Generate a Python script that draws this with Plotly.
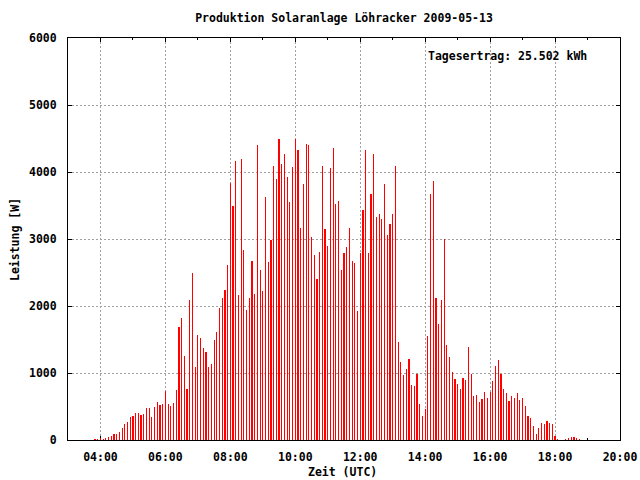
import plotly.graph_objects as go

DAY = "2009-05-13"

times = [
    "03:50", "03:55",
    "04:00", "04:05", "04:10", "04:15", "04:20", "04:25", "04:30", "04:35", "04:40", "04:45", "04:50", "04:55",
    "05:00", "05:05", "05:10", "05:15", "05:20", "05:25", "05:30", "05:35", "05:40", "05:45", "05:50", "05:55",
    "06:00", "06:05", "06:10", "06:15", "06:20", "06:25", "06:30", "06:35", "06:40", "06:45", "06:50", "06:55",
    "07:00", "07:05", "07:10", "07:15", "07:20", "07:25", "07:30", "07:35", "07:40", "07:45", "07:50", "07:55",
    "08:00", "08:05", "08:10", "08:15", "08:20", "08:25", "08:30", "08:35", "08:40", "08:45", "08:50", "08:55",
    "09:00", "09:05", "09:10", "09:15", "09:20", "09:25", "09:30", "09:35", "09:40", "09:45", "09:50", "09:55",
    "10:00", "10:05", "10:10", "10:15", "10:20", "10:25", "10:30", "10:35", "10:40", "10:45", "10:50", "10:55",
    "11:00", "11:05", "11:10", "11:15", "11:20", "11:25", "11:30", "11:35", "11:40", "11:45", "11:50", "11:55",
    "12:00", "12:05", "12:10", "12:15", "12:20", "12:25", "12:30", "12:35", "12:40", "12:45", "12:50", "12:55",
    "13:00", "13:05", "13:10", "13:15", "13:20", "13:25", "13:30", "13:35", "13:40", "13:45", "13:50", "13:55",
    "14:00", "14:05", "14:10", "14:15", "14:20", "14:25", "14:30", "14:35", "14:40", "14:45", "14:50", "14:55",
    "15:00", "15:05", "15:10", "15:15", "15:20", "15:25", "15:30", "15:35", "15:40", "15:45", "15:50", "15:55",
    "16:00", "16:05", "16:10", "16:15", "16:20", "16:25", "16:30", "16:35", "16:40", "16:45", "16:50", "16:55",
    "17:00", "17:05", "17:10", "17:15", "17:20", "17:25", "17:30", "17:35", "17:40", "17:45", "17:50", "17:55",
    "18:00", "18:05", "18:10", "18:15", "18:20", "18:25", "18:30", "18:35", "18:40", "18:45",
]

leistung = [
    15, 15,
    20, 15, 30, 50, 65, 90, 90, 125, 180, 240, 270, 345,
    360, 405, 405, 375, 390, 480, 480, 345, 495, 565, 520, 535,
    730, 535, 505, 550, 747, 1690, 1824, 1256, 762, 2093, 2497, 1091,
    1570, 1525, 1375, 1315, 1091, 1136, 1495, 1615, 1973, 2123, 2242, 2616,
    3842, 3498, 4171, 2168, 4201, 2840, 1943, 2123, 2676, 2183, 4410, 2541,
    2227, 3633, 2661, 2990, 4096, 3902, 4500, 4126, 4275, 3932, 3558, 4081,
    4500, 4335, 3169, 3827, 4425, 4410, 3035, 2766, 2407, 2811, 4096, 3154,
    2900, 4066, 4365, 3528, 3573, 2541, 2796, 2885, 3169, 2676, 2646, 1928,
    2796, 3438, 4335, 2796, 3677, 4275, 3333, 3378, 3304, 3827, 3065, 3229,
    3378, 4096, 1465, 1166, 972, 1061, 1211, 822, 807, 987, 538, 359,
    463, 1555, 3677, 3872, 2123, 1734, 2093, 3005, 1420, 1241, 1017, 912,
    837, 762, 927, 897, 1390, 987, 658, 673, 568, 613, 718, 628,
    718, 882, 1106, 1196, 987, 762, 703, 583, 658, 628, 701, 597,
    627, 507, 358, 328, 209, 90, 179, 254, 239, 284, 254, 239,
    60, 15, 0, 0, 15, 30, 45, 45, 30, 15,
]

x_ticks = ["04:00", "06:00", "08:00", "10:00", "12:00", "14:00", "16:00", "18:00", "20:00"]
y_ticks = [0, 1000, 2000, 3000, 4000, 5000, 6000]

title_text = "Produktion Solaranlage Löhracker 2009-05-13"
ertrag_text = "Tagesertrag: 25.502 kWh"

FONT = "DejaVu Sans Mono"
FS = 11.5

x = [f"{DAY} {t}" for t in times]

fig = go.Figure()
fig.add_trace(go.Bar(
    x=x, y=leistung,
    width=20000,
    marker=dict(color="#ff0000", line=dict(width=0)),
    showlegend=False,
))

fig.update_layout(
    width=640, height=480, autosize=False,
    margin=dict(l=68, r=20, t=38, b=40, pad=0, autoexpand=False),
    paper_bgcolor="white", plot_bgcolor="white",
    font=dict(family=FONT, size=FS, color="black", weight="bold"),
    bargap=0,
    showlegend=False,
    title=dict(text=title_text, x=0.5, xref="paper", xanchor="center",
               y=1 - 18 / 480, yref="container", yanchor="middle",
               font=dict(family=FONT, size=FS, color="black", weight="bold")),
    annotations=[
        dict(text=ertrag_text, xref="paper", yref="paper", x=(589 - 68) / 552, y=(440 - 56) / 402,
             xanchor="right", yanchor="middle", showarrow=False,
             font=dict(family=FONT, size=FS, color="black", weight="bold")),
        dict(text="Zeit (UTC)", xref="paper", yref="paper", x=(342 - 68) / 552, y=0,
             yshift=-32, xanchor="center", yanchor="middle", showarrow=False,
             font=dict(family=FONT, size=FS, color="black", weight="bold")),
        dict(text="Leistung [W]", xref="paper", yref="paper", x=0, y=(440 - 240) / 402,
             xshift=-53, textangle=-90, xanchor="center", yanchor="middle", showarrow=False,
             font=dict(family=FONT, size=FS, color="black", weight="bold")),
    ],
)

fig.update_xaxes(
    type="date",
    range=[f"{DAY} 03:00", f"{DAY} 20:00"],
    autorange=False,
    automargin=False,
    tickmode="array",
    tickvals=[f"{DAY} {t}" for t in x_ticks],
    ticktext=x_ticks,
    ticks="inside", ticklen=4, tickcolor="black", tickwidth=1,
    showline=True, linecolor="black", linewidth=1, mirror="ticks",
    showgrid=True, gridcolor="#a0a0a0", griddash="2px,2px", gridwidth=1,
    zeroline=False,
    minor=dict(dtick=3600000, tick0=f"{DAY} 03:00", ticks="inside", ticklen=2,
               tickcolor="black", showgrid=False),
    ticklabelstandoff=6,
    layer="below traces",
    fixedrange=True,
)
fig.update_yaxes(
    range=[0, 6000],
    autorange=False,
    automargin=False,
    tickmode="array", tickvals=y_ticks, ticktext=[str(v) for v in y_ticks],
    ticks="inside", ticklen=4, tickcolor="black", tickwidth=1,
    showline=True, linecolor="black", linewidth=1, mirror="ticks",
    showgrid=True, gridcolor="#a0a0a0", griddash="2px,2px", gridwidth=1,
    zeroline=False,
    ticklabelstandoff=8,
    layer="below traces",
    fixedrange=True,
)

fig.write_html("out.html", post_script="document.body.style.margin='0';",
               config={"displayModeBar": False})
